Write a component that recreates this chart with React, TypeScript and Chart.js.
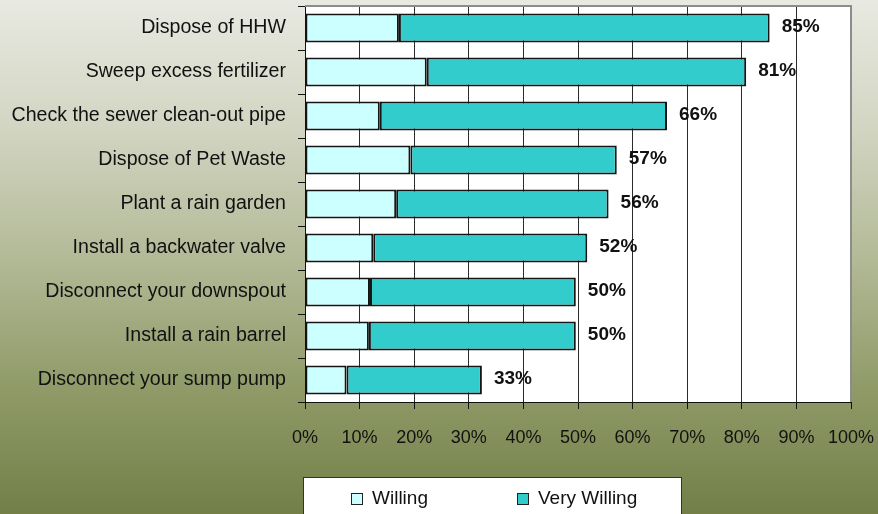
import React, { useEffect, useRef } from "react";
import { Chart, registerables } from "chart.js";

Chart.register(...registerables);

const categories = [
  "Dispose of HHW",
  "Sweep excess fertilizer",
  "Check the sewer clean-out pipe",
  "Dispose of Pet Waste",
  "Plant a rain garden",
  "Install a backwater valve",
  "Disconnect your downspout",
  "Install a rain barrel",
  "Disconnect your sump pump",
];
const seriesNames = ["Willing", "Very Willing"];
const willing = [17.2, 22.3, 13.7, 19.3, 16.7, 12.5, 11.9, 11.7, 7.6];
const veryWilling = [67.9, 58.5, 52.6, 37.8, 38.9, 39.2, 37.7, 37.9, 24.8];
const totalLabels = ["85%", "81%", "66%", "57%", "56%", "52%", "50%", "50%", "33%"];
const xTickLabels = ["0%", "10%", "20%", "30%", "40%", "50%", "60%", "70%", "80%", "90%", "100%"];

const FONT = '"Liberation Sans", Arial, sans-serif';
const COLORS = ["#ccffff", "#33cccc"];

export default function App() {
  const ref = useRef<HTMLCanvasElement | null>(null);

  useEffect(() => {
    document.body.style.margin = "0";
    const canvas = ref.current;
    if (!canvas) return;

    const bgPlugin = {
      id: "bgPlugin",
      beforeDraw(chart: any) {
        const { ctx, width, height, chartArea } = chart;
        ctx.save();
        const g = ctx.createLinearGradient(0, 0, 0, height);
        g.addColorStop(0, "#e8e9e1");
        g.addColorStop(0.25, "#d2d5c2");
        g.addColorStop(0.5, "#b3ba97");
        g.addColorStop(0.75, "#909b69");
        g.addColorStop(1, "#737f47");
        ctx.fillStyle = g;
        ctx.fillRect(0, 0, width, height);
        ctx.fillStyle = "#ffffff";
        ctx.fillRect(chartArea.left, chartArea.top, chartArea.right - chartArea.left, chartArea.bottom - chartArea.top);
        ctx.restore();
      },
      afterDatasetsDraw(chart: any) {
        const { ctx, chartArea } = chart;
        const xs = chart.scales.x;
        const meta = chart.getDatasetMeta(1);
        ctx.save();
        ctx.strokeStyle = "#8c8c8c";
        ctx.lineWidth = 2;
        ctx.beginPath();
        ctx.moveTo(chartArea.left, chartArea.top);
        ctx.lineTo(chartArea.right, chartArea.top);
        ctx.lineTo(chartArea.right, chartArea.bottom);
        ctx.stroke();
        ctx.fillStyle = "#111";
        ctx.font = `bold 19px ${FONT}`;
        ctx.textAlign = "left";
        ctx.textBaseline = "middle";
        meta.data.forEach((bar: any, i: number) => {
          const x = xs.getPixelForValue(willing[i] + veryWilling[i]) + 12;
          ctx.fillText(totalLabels[i], x, bar.y - 1);
        });
        ctx.restore();
      },
      afterDraw(chart: any) {
        const { ctx } = chart;
        ctx.save();
        ctx.fillStyle = "#ffffff";
        ctx.strokeStyle = "#333";
        ctx.lineWidth = 1;
        ctx.fillRect(303.5, 477.5, 378, 50);
        ctx.strokeRect(303.5, 477.5, 378, 50);
        const items = [
          { bx: 351, tx: 372 },
          { bx: 517, tx: 538 },
        ];
        ctx.font = `19px ${FONT}`;
        ctx.textBaseline = "middle";
        ctx.textAlign = "left";
        items.forEach((it, i) => {
          ctx.fillStyle = COLORS[i];
          ctx.fillRect(it.bx + 0.5, 493.5, 11, 11);
          ctx.strokeStyle = "#222";
          ctx.strokeRect(it.bx + 0.5, 493.5, 11, 11);
          ctx.fillStyle = "#111";
          ctx.fillText(seriesNames[i], it.tx, 499);
        });
        ctx.restore();
      },
    };

    const chart = new Chart(canvas, {
      type: "bar",
      data: {
        labels: categories,
        datasets: [
          {
            label: seriesNames[0],
            data: willing,
            backgroundColor: COLORS[0],
            borderColor: "#151515",
            borderWidth: 2,
            borderSkipped: false,
            barPercentage: 0.66,
            categoryPercentage: 1,
          },
          {
            label: seriesNames[1],
            data: veryWilling,
            backgroundColor: COLORS[1],
            borderColor: "#151515",
            borderWidth: 2,
            borderSkipped: false,
            barPercentage: 0.66,
            categoryPercentage: 1,
          },
        ],
      },
      options: {
        indexAxis: "y",
        responsive: false,
        animation: false,
        devicePixelRatio: 1,
        layout: { padding: { top: 6, right: 27, bottom: 62, left: 0 } },
        plugins: {
          legend: { display: false },
          tooltip: { enabled: false },
        },
        scales: {
          x: {
            type: "linear",
            stacked: true,
            min: 0,
            max: 100,
            position: "bottom",
            ticks: {
              stepSize: 10,
              autoSkip: false,
              maxRotation: 0,
              callback: (_v: any, i: number) => xTickLabels[i],
              font: { family: FONT, size: 18 },
              color: "#111",
              padding: 18,
            },
            grid: {
              color: (c: any) => (c.tick && c.tick.value === 100 ? "#8c8c8c" : "#2a2a2a"),
              lineWidth: 1,
              tickLength: 7,
              tickColor: "#111",
            },
            border: { color: "#111", width: 1 },
            afterFit: (s: any) => {
              s.height = 50;
              s.paddingLeft = 0;
              s.paddingRight = 0;
            },
          },
          y: {
            type: "category",
            stacked: true,
            ticks: {
              font: { family: FONT, size: 19.6 },
              color: "#111",
              padding: 12,
              autoSkip: false,
            },
            grid: {
              drawOnChartArea: false,
              tickLength: 7,
              color: "#111",
              offset: true,
            },
            border: { color: "#111", width: 1 },
            afterFit: (s: any) => {
              s.width = 305;
              s.paddingTop = 0;
              s.paddingBottom = 0;
            },
          },
        },
      } as any,
      plugins: [bgPlugin],
    });

    return () => chart.destroy();
  }, []);

  return (
    <div style={{ position: "absolute", left: 0, top: 0, width: 878, height: 514 }}>
      <canvas ref={ref} width={878} height={514} style={{ display: "block", width: 878, height: 514 }} />
    </div>
  );
}
